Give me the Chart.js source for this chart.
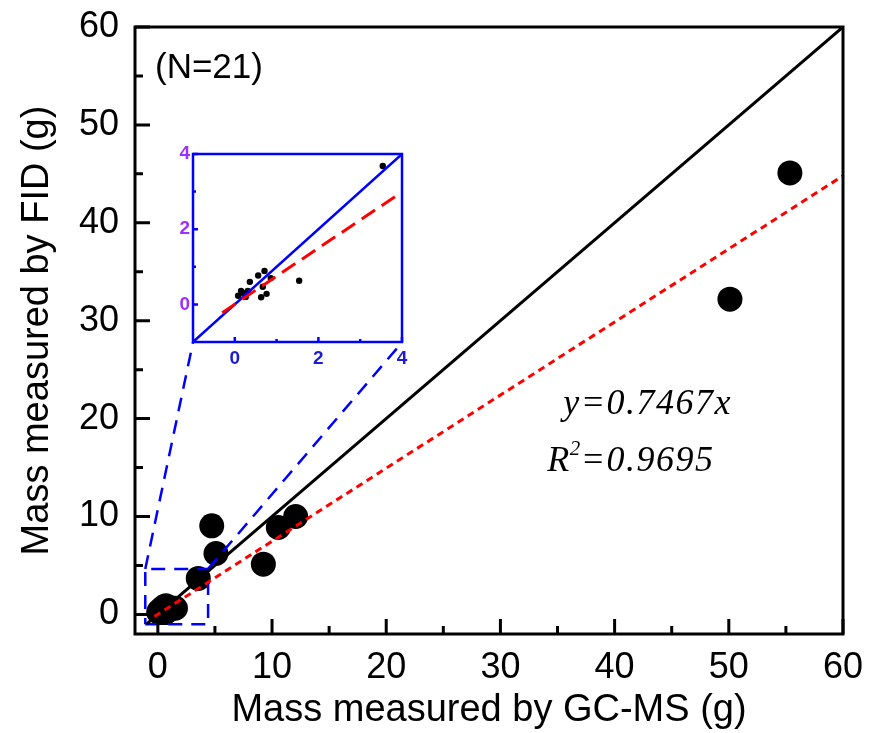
<!DOCTYPE html>
<html>
<head>
<meta charset="utf-8">
<title>FID vs GC-MS</title>
<script src="https://cdn.jsdelivr.net/npm/chart.js@4.4.1/dist/chart.umd.min.js"></script>
<style>
  html, body { margin: 0; padding: 0; background: #fff; }
  #wrap { position: relative; width: 871px; height: 733px; }
  #mainChart { position: absolute; left: 0; top: 0; }
  #insetChart { position: absolute; left: 165px; top: 146px; }
</style>
</head>
<body>
<div id="wrap">
  <canvas id="mainChart" width="871" height="733"></canvas>
  <canvas id="insetChart" width="247" height="226"></canvas>
</div>
<script>
// mass of each sample (g): GC-MS on x, FID on y
const gcms = [55.35, 50.1, 12.07, 10.55, 9.24, 4.72, 5.09, 3.54, 1.54,
  0.71, 0.56, 0.86, 0.36, 0.67, 0.76, 0.63, 0.31, 0.15, 0.08, 0.26, 0.20];
const fid = [45.1, 32.2, 10.0, 8.88, 5.13, 9.05, 6.22, 3.68, 0.63,
  0.89, 0.77, 0.70, 0.60, 0.47, 0.28, 0.19, 0.36, 0.36, 0.23, 0.20, 0.30];

// 1:1 line and fitted line y = 0.7467x
const oneToOne = [-1, 60];
const fitX = [-0.3, 60];
const fitY = [-0.22, 44.80];

const majorTicks = [0, 10, 20, 30, 40, 50, 60];
const minorTicks = [5, 15, 25, 35, 45, 55];

// dashed zoom box + leader lines towards the inset
const boxX = [-1.1, 4.4, 4.4, -1.1, -1.1];
const boxY = [-1, -1, 4.65, 4.65, -1];
const leaderLX = [-1.1, 3.08], leaderLY = [4.65, 27.8];
const leaderRX = [4.4, 21.4], leaderRY = [4.65, 27.8];

// inset
const insetOneToOne = [-1, 4];
const insetFitX = [-0.3, 4];
const insetFitY = [-0.22, 2.99];
const insetMajor = [0, 2, 4];
const insetMinor = [1, 3];

const pts = (xs, ys) => xs.map((x, i) => ({ x: x, y: ys[i] }));

function framePlugin(cfg) {
  return {
    id: 'frame',
    afterDraw(chart) {
      const { ctx, chartArea: a } = chart;
      const x = chart.scales.x, y = chart.scales.y;
      ctx.save();
      ctx.strokeStyle = cfg.color;
      ctx.lineWidth = cfg.width;
      ctx.beginPath();
      const tick = (v, len) => {
        const px = x.getPixelForValue(v);
        ctx.moveTo(px, a.bottom);
        ctx.lineTo(px, a.bottom - len);
        const py = y.getPixelForValue(v);
        ctx.moveTo(a.left, py);
        ctx.lineTo(a.left + len, py);
      };
      cfg.major.forEach(v => tick(v, cfg.majorLen));
      cfg.minor.forEach(v => tick(v, cfg.minorLen));
      ctx.stroke();
      ctx.strokeRect(a.left, a.top, a.right - a.left, a.bottom - a.top);
      ctx.restore();
    }
  };
}

const notes = {
  id: 'notes',
  afterDraw(chart) {
    const { ctx } = chart;
    const x = chart.scales.x, y = chart.scales.y;
    ctx.save();
    ctx.fillStyle = '#000';
    ctx.textBaseline = 'middle';
    ctx.font = '35px "Liberation Sans"';
    ctx.fillText('(N=21)', x.getPixelForValue(-0.25), y.getPixelForValue(55.8));

    ctx.textBaseline = 'alphabetic';
    ctx.letterSpacing = '1.5px';
    ctx.font = 'italic 36px "Liberation Serif"';
    ctx.fillText('y=0.7467x', x.getPixelForValue(35.5), y.getPixelForValue(20.5));

    const rx = x.getPixelForValue(34.1), ry = y.getPixelForValue(14.7);
    ctx.fillText('R', rx, ry);
    const w = ctx.measureText('R').width;
    ctx.font = 'italic 21px "Liberation Serif"';
    ctx.fillText('2', rx + w - 1, ry - 16);
    ctx.font = 'italic 36px "Liberation Serif"';
    ctx.fillText('=0.9695', rx + w + 10, ry);
    ctx.restore();
  }
};

const lineSet = (data, color, width, dash, order) => ({
  data: data, showLine: true, borderColor: color, borderWidth: width,
  borderDash: dash, pointRadius: 0, order: order
});

// fixed scale sizes so the plot box lands where it should
const fixX = h => s => { s.height = h; s.paddingLeft = 0; s.paddingRight = 0; };
const fixY = w => s => { s.width = w; s.paddingTop = 0; s.paddingBottom = 0; };

new Chart(document.getElementById('mainChart'), {
  type: 'scatter',
  data: {
    datasets: [
      lineSet(pts(fitX, fitY), '#ff0000', 3, [7, 5], 0),
      lineSet(pts(oneToOne, oneToOne), '#000000', 3, [], 1),
      lineSet(pts(boxX, boxY), '#0000ff', 2.5, [14, 9], 2),
      lineSet(pts(leaderLX, leaderLY), '#0000ff', 2.5, [14, 9], 2),
      lineSet(pts(leaderRX, leaderRY), '#0000ff', 2.5, [14, 9], 2),
      {
        data: pts(gcms, fid), pointRadius: 12.5, pointBackgroundColor: '#000',
        pointBorderWidth: 0, order: 5
      }
    ]
  },
  options: {
    responsive: false,
    animation: false,
    events: [],
    layout: { padding: { top: 27, right: 28, left: 0, bottom: 0 } },
    plugins: { legend: { display: false }, tooltip: { enabled: false } },
    scales: {
      x: {
        type: 'linear', min: -2, max: 60,
        afterFit: fixX(99),
        afterBuildTicks: s => { s.ticks = majorTicks.map(v => ({ value: v })); },
        grid: { display: false, drawTicks: false },
        border: { display: false },
        ticks: { color: '#000', padding: 12, maxRotation: 0, autoSkip: false,
          font: { family: 'Liberation Sans', size: 36 } },
        title: { display: true, text: 'Mass measured by GC-MS (g)', color: '#000',
          font: { family: 'Liberation Sans', size: 38 }, padding: { top: 0, bottom: 0 } }
      },
      y: {
        type: 'linear', min: -2, max: 60,
        afterFit: fixY(135),
        afterBuildTicks: s => { s.ticks = majorTicks.map(v => ({ value: v })); },
        grid: { display: false, drawTicks: false },
        border: { display: false },
        ticks: { color: '#000', padding: 16, autoSkip: false,
          font: { family: 'Liberation Sans', size: 36 } },
        title: { display: true, text: 'Mass measured by FID (g)', color: '#000',
          font: { family: 'Liberation Sans', size: 38 }, padding: { top: 15, bottom: 0 } }
      }
    }
  },
  plugins: [framePlugin({ color: '#000', width: 3, major: majorTicks, minor: minorTicks,
    majorLen: 15, minorLen: 8 }), notes]
});

new Chart(document.getElementById('insetChart'), {
  type: 'scatter',
  data: {
    datasets: [
      lineSet(pts(insetFitX, insetFitY), '#ff0000', 3, [16, 8], 0),
      lineSet(pts(insetOneToOne, insetOneToOne), '#0000ff', 2.5, [], 1),
      {
        data: pts(gcms, fid), pointRadius: 3.2, pointBackgroundColor: '#000',
        pointBorderWidth: 0, order: 2
      }
    ]
  },
  options: {
    responsive: false,
    animation: false,
    events: [],
    layout: { padding: { top: 8, right: 10, left: 0, bottom: 0 } },
    plugins: { legend: { display: false }, tooltip: { enabled: false } },
    scales: {
      x: {
        type: 'linear', min: -1, max: 4,
        afterFit: fixX(30),
        afterBuildTicks: s => { s.ticks = insetMajor.map(v => ({ value: v })); },
        grid: { display: false, drawTicks: false },
        border: { display: false },
        ticks: { color: '#1c1cd6', padding: 5, maxRotation: 0, autoSkip: false,
          font: { family: 'Liberation Sans', size: 19, weight: 'bold' } }
      },
      y: {
        type: 'linear', min: -1, max: 4,
        afterFit: fixY(28),
        afterBuildTicks: s => { s.ticks = insetMajor.map(v => ({ value: v })); },
        grid: { display: false, drawTicks: false },
        border: { display: false },
        ticks: { color: '#9b30ff', padding: 3, autoSkip: false,
          font: { family: 'Liberation Sans', size: 19, weight: 'bold' } }
      }
    }
  },
  plugins: [framePlugin({ color: '#0000ff', width: 2.5, major: insetMajor, minor: insetMinor,
    majorLen: 5, minorLen: 3 })]
});
</script>
</body>
</html>
